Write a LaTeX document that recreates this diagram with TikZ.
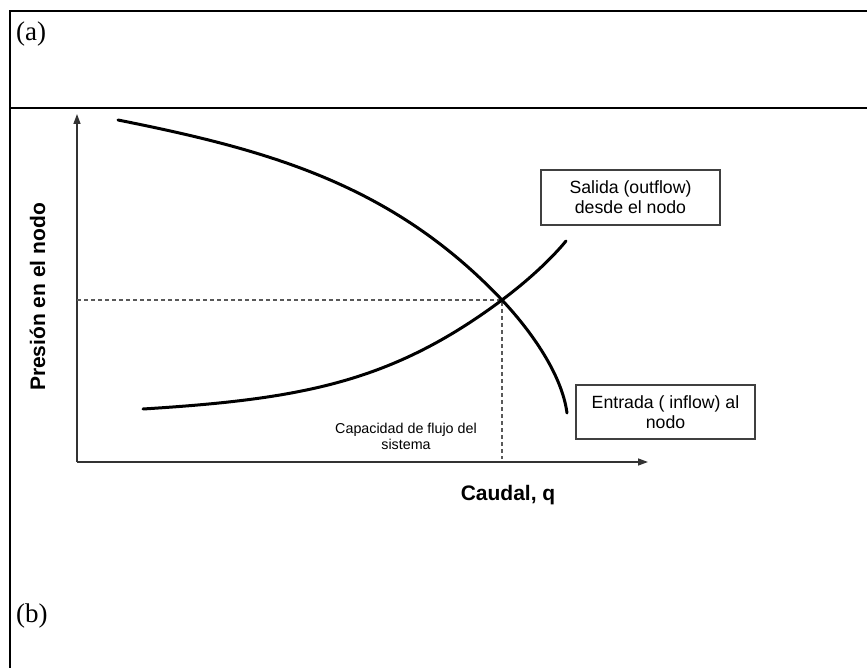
\documentclass[tikz,border=0pt]{standalone}
\usepackage{fontspec}
\setmainfont{Liberation Sans}
\newfontfamily\serifrm{Liberation Serif}
\usetikzlibrary{arrows.meta}

\tikzset{
  frame/.style={line width=2.6pt},
  axis/.style={line width=1.4pt, draw=black!80, -{Triangle[length=10pt,width=7pt]}},
  curve/.style={line width=3pt, line cap=round},
  guide/.style={draw=black!65, line width=1.1pt, dash pattern=on 4pt off 3pt},
  tag/.style={anchor=base west, inner sep=0pt, font=\serifrm\fontsize{27}{30}\selectfont},
  labelbox/.style={draw=black!75, line width=1.3pt, minimum width=179pt, minimum height=55pt,
                   align=center, inner sep=0pt, font=\fontsize{17.7}{20}\selectfont}
}

\begin{document}
\begin{tikzpicture}[x=1pt,y=-1pt]
        \useasboundingbox (0,0) rectangle (867,668);

        % table frame
        \draw[frame] (867,11) -- (10,11) -- (10,668);
        \draw[frame] (10,108) -- (867,108);
        \node[tag] (lbla) at (16,41) {(a)};
        \node[tag] (lblb) at (16,622) {(b)};

        % axes
        \coordinate (O) at (77,462);
        \coordinate (ytop) at (77,114);
        \coordinate (xend) at (648,462);
        \draw[axis] (O) -- (ytop);
        \draw[axis] (O) -- (xend);
        \node[rotate=90, anchor=base, font=\bfseries\fontsize{21}{25}\selectfont] (ylab) at (45,297) {Presión en el nodo};
        \node[anchor=base, font=\bfseries\fontsize{21}{25}\selectfont] (xlab) at (508,500) {Caudal, q};

        % operating point
        \coordinate (P) at (502,300);
        \coordinate (Py) at (77,300);
        \coordinate (Pq) at (502,459);
        \draw[guide] (Py) -- (P) -- (Pq);
        \node[align=center, inner sep=0pt, font=\fontsize{14.3}{16}\selectfont] (cap) at (406,436) {Capacidad de flujo del\\sistema};

        % falling curve
        \draw[curve] (118,120) .. controls (268,150) and (392,184) .. (P)
                     .. controls (532,332) and (562,375) .. (567,413);

        % rising curve
        \draw[curve] (143,409) .. controls (303,399) and (392,382) .. (P)
                     .. controls (530,279) and (552,258) .. (566,241);

        \node[labelbox] (salida) at (630.5,197.5) {Salida (outflow)\\desde el nodo};
        \node[labelbox, minimum height=54pt] (entrada) at (665.5,412) {Entrada ( inflow) al\\nodo};
    \end{tikzpicture}
\end{document}
